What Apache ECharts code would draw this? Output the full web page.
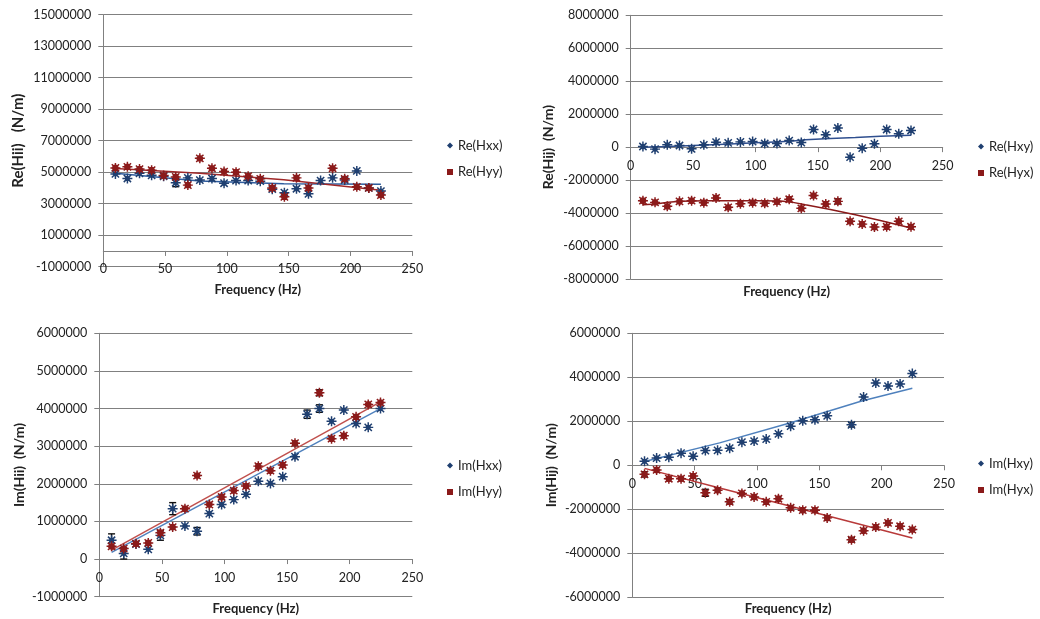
<!DOCTYPE html>
<html><head><meta charset="utf-8">
<script src="https://cdn.jsdelivr.net/npm/echarts@6/dist/echarts.min.js"></script>
<style>html,body{margin:0;padding:0;background:#fff}#c{width:1040px;height:619px}</style>
</head><body><div id="c"></div>
<script>
// ---------- data (N/m) ----------
const freq = [9.8, 19.5, 29.3, 39.1, 48.8, 58.6, 68.4, 78.1, 87.9, 97.7, 107.4, 117.2, 127.0, 136.7, 146.5, 156.3, 166.0, 175.8, 185.5, 195.3, 205.1, 214.8, 224.6];

const reHxx = [4890000, 4600000, 4930000, 4800000, 4740000, 4330000, 4640000, 4500000, 4600000, 4300000, 4470000, 4470000, 4430000, 3920000, 3700000, 3950000, 3630000, 4470000, 4640000, 4500000, 5080000, 4000000, 3800000];
const reHyy = [5270000, 5340000, 5200000, 5130000, 4790000, 4700000, 4180000, 5880000, 5250000, 5040000, 5000000, 4750000, 4580000, 4000000, 3440000, 4640000, 4000000, null, 5250000, 4580000, 4070000, 4000000, 3550000];
const reHxy = [40000, -120000, 140000, 100000, -100000, 140000, 300000, 260000, 320000, 340000, 220000, 220000, 400000, 280000, 1070000, 750000, 1160000, -610000, -60000, 200000, 1070000, 810000, 1010000];
const reHyx = [-3250000, -3350000, -3590000, -3290000, -3250000, -3370000, -3080000, -3650000, -3430000, -3370000, -3410000, -3310000, -3160000, -3710000, -2940000, -3450000, -3290000, -4500000, -4670000, -4850000, -4830000, -4500000, -4830000];
const imHxx = [500000, 150000, 400000, 260000, 630000, 1340000, 880000, 740000, 1210000, 1450000, 1580000, 1720000, 2070000, 2010000, 2190000, 2720000, 3850000, 4000000, 3660000, 3960000, 3600000, 3500000, 4000000];
const imHyy = [340000, 280000, 410000, 430000, 700000, 850000, 1340000, 2220000, 1450000, 1650000, 1820000, 1940000, 2470000, 2350000, 2500000, 3080000, null, 4420000, 3200000, 3280000, 3780000, 4110000, 4160000];
const imHxy = [180000, 330000, 370000, 550000, 410000, 670000, 680000, 780000, 1050000, 1100000, 1190000, 1430000, 1780000, 2020000, 2070000, 2250000, null, 1840000, 3100000, 3740000, 3600000, 3700000, 4170000];
const imHyx = [-410000, -210000, -610000, -610000, -490000, -1250000, -1130000, -1660000, -1280000, -1440000, -1660000, -1520000, -1930000, -2040000, -2040000, -2390000, null, -3380000, -2970000, -2810000, -2620000, -2770000, -2920000];

// error bar half-widths (null = not visible)
const errReHxx = [null, null, null, null, null, 250000, null, null, null, null, null, null, null, null, null, null, null, null, null, null, null, null, null];
const errReHyx = [null, null, null, null, null, null, null, null, null, null, null, null, null, null, null, null, 150000, null, null, null, null, null, null];
const errImHxx = [170000, 150000, null, null, 130000, 160000, null, 100000, null, null, null, null, null, null, null, null, 110000, 100000, null, null, null, null, null];
const errImHyy = [null, null, null, null, null, null, null, null, null, null, null, null, null, null, null, null, null, 80000, null, null, null, null, null];
const errImHxy = [null, null, null, null, null, null, null, null, null, null, null, null, null, null, null, null, null, 100000, null, null, null, null, null];
const errImHyx = [120000, null, null, null, null, 160000, null, 100000, null, null, null, null, null, null, null, null, null, 100000, null, null, null, null, null];

// trend lines
const trendF1 = [9.8, 78, 146, 224.6];
const trendReHxx = [4930000, 4440000, 4270000, 4240000];
const trendReHyy = [5240000, 4940000, 4520000, 3850000];
const trendF2 = [9.8, 20, 30, 40, 60, 80, 100, 120, 130, 140, 160, 180, 200, 224.6];
const trendReHxy = [0, 20000, 40000, 70000, 130000, 190000, 260000, 330000, 370000, 450000, 520000, 580000, 660000, 720000];
const trendReHyx = [-3500000, -3450000, -3350000, -3280000, -3250000, -3250000, -3250000, -3270000, -3350000, -3500000, -3780000, -4100000, -4450000, -4900000];
const trendF3 = [9.8, 224.6];
const trendImHxx = [180000, 4000000];
const trendImHyy = [240000, 4180000];
const trendF4 = [9.8, 70, 127, 184, 224.6];
const trendImHxy = [170000, 1020000, 1930000, 2920000, 3500000];
const trendImHyx = [-140000, -1030000, -1860000, -2700000, -3300000];

const xRange = {min: 0, max: 250, interval: 50};
const yRanges = [
  {min: -1000000, max: 15000000, interval: 2000000},
  {min: -8000000, max: 8000000, interval: 2000000},
  {min: -1000000, max: 6000000, interval: 1000000},
  {min: -6000000, max: 6000000, interval: 2000000}
];
const yNames = ['Re(Hii)   (N/m)', 'Re(Hij)  (N/m)', 'Im(Hii)  (N/m)', 'Im(Hij)  (N/m)'];
const xName = 'Frequency (Hz)';

// ---------- style ----------
const FONT = 'Lato';
const GRIDC = '#808080';
const TXT = '#222';
const BLUE = '#1F3F70', RED = '#8B1A1A';
const STAR = 'M0.5 8.6H19.5V11.4H0.5Z M8.6 0.5H11.4V19.5H8.6Z M4.1 2.1L17.9 15.9L15.9 17.9L2.1 4.1Z M15.9 2.1L17.9 4.1L4.1 17.9L2.1 15.9Z';
const SYM_B = 'path://' + STAR + ' M10 3.5L16.5 10L10 16.5L3.5 10Z';
const SYM_R = 'path://' + STAR + ' M10 3.6A6.4 6.4 0 1 1 9.99 3.6Z';

const grids = [
  {left: 103.3, top: 14.7, width: 309, height: 252},
  {left: 630.7, top: 15.3, width: 312, height: 263.7},
  {left: 99.3, top: 333.3, width: 313, height: 263.4},
  {left: 632.3, top: 333.3, width: 311.7, height: 264}
];
const yNameGap = [85, 82, 80, 81];
const yNameSize = [15, 14, 14, 14];
const xNameGap = [23.5, 12.7, 12.3, 11.7];
const trendColors = [['#2E5C9E', '#A02828'], ['#2F4F8F', '#8B1A1A'], ['#4F81BD', '#C0504D'], ['#4F81BD', '#B83A3A']];

const fmt = v => String(Math.round(v));

const xAxes = [], yAxes = [];
grids.forEach((g, i) => {
  const yr = yRanges[i];
  // horizontal axis crosses the vertical one at 0 (as in the original)
  const zeroOffset = -g.height * (0 - yr.min) / (yr.max - yr.min);
  xAxes.push({
    type: 'value', gridIndex: i, min: xRange.min, max: xRange.max, interval: xRange.interval,
    position: 'bottom', offset: zeroOffset,
    axisLine: {show: true, onZero: false, lineStyle: {color: GRIDC, width: 1}},
    axisTick: {show: true, inside: false, length: 5, lineStyle: {color: GRIDC}},
    axisLabel: {show: true, margin: 12, fontFamily: FONT, fontSize: 12.5, color: TXT, formatter: fmt},
    splitLine: {show: false}
  });
  xAxes.push({
    type: 'value', gridIndex: i, min: xRange.min, max: xRange.max, position: 'bottom',
    axisLine: {show: false, onZero: false}, axisTick: {show: false}, axisLabel: {show: false}, splitLine: {show: false},
    name: xName, nameLocation: 'middle', nameGap: xNameGap[i],
    nameTextStyle: {fontFamily: FONT, fontSize: 13, fontWeight: 'bold', color: TXT, verticalAlign: 'middle'}
  });
  yAxes.push({
    type: 'value', gridIndex: i, min: yr.min, max: yr.max, interval: yr.interval,
    axisLine: {show: true, onZero: false, lineStyle: {color: GRIDC, width: 1}},
    axisTick: {show: true, inside: false, length: 5, lineStyle: {color: GRIDC}},
    axisLabel: {margin: 12, fontFamily: FONT, fontSize: 12.5, color: TXT, formatter: fmt},
    splitLine: {show: true, lineStyle: {color: GRIDC, width: 1}},
    name: yNames[i], nameLocation: 'middle', nameGap: yNameGap[i], nameRotate: 90,
    nameTextStyle: {fontFamily: FONT, fontSize: yNameSize[i], fontWeight: 'bold', color: TXT, verticalAlign: 'middle', align: 'center'}
  });
});

function pts(vals) {
  const out = [];
  vals.forEach((v, i) => { if (v !== null) out.push([freq[i], v]); });
  return out;
}
function errPts(vals, errs) {
  const out = [];
  errs.forEach((e, i) => { if (e !== null && vals[i] !== null) out.push([freq[i], vals[i] - e, vals[i] + e]); });
  return out;
}
function trend(fs, vs) { return fs.map((f, i) => [f, vs[i]]); }

function renderErr(params, api) {
  const x = api.value(0), lo = api.value(1), hi = api.value(2);
  const p1 = api.coord([x, hi]), p2 = api.coord([x, lo]);
  const w = 3.5;
  const st = {stroke: '#111', lineWidth: 1.4};
  return {type: 'group', children: [
    {type: 'line', shape: {x1: p1[0], y1: p1[1], x2: p2[0], y2: p2[1]}, style: st},
    {type: 'line', shape: {x1: p1[0] - w, y1: p1[1], x2: p1[0] + w, y2: p1[1]}, style: st},
    {type: 'line', shape: {x1: p2[0] - w, y1: p2[1], x2: p2[0] + w, y2: p2[1]}, style: st}
  ]};
}

const panels = [
  {names: ['Re(Hxx)', 'Re(Hyy)'], vals: [reHxx, reHyy], errs: [errReHxx, null], tf: trendF1, tv: [trendReHxx, trendReHyy]},
  {names: ['Re(Hxy)', 'Re(Hyx)'], vals: [reHxy, reHyx], errs: [null, errReHyx], tf: trendF2, tv: [trendReHxy, trendReHyx]},
  {names: ['Im(Hxx)', 'Im(Hyy)'], vals: [imHxx, imHyy], errs: [errImHxx, errImHyy], tf: trendF3, tv: [trendImHxx, trendImHyy]},
  {names: ['Im(Hxy)', 'Im(Hyx)'], vals: [imHxy, imHyx], errs: [errImHxy, errImHyx], tf: trendF4, tv: [trendImHxy, trendImHyx]}
];

const series = [];
panels.forEach((p, i) => {
  const xi = 2 * i, yi = i;
  [0, 1].forEach(k => {
    series.push({
      type: 'line', name: 'trend' + i + k, xAxisIndex: xi, yAxisIndex: yi,
      data: trend(p.tf, p.tv[k]), showSymbol: false, symbol: 'none', silent: true, z: 2,
      lineStyle: {color: trendColors[i][k], width: 1.5}
    });
  });
  [0, 1].forEach(k => {
    if (p.errs[k]) {
      series.push({
        type: 'custom', name: 'err' + i + k, xAxisIndex: xi, yAxisIndex: yi,
        data: errPts(p.vals[k], p.errs[k]), renderItem: renderErr, z: 3, silent: true,
        encode: {x: 0, y: [1, 2]}
      });
    }
  });
  [0, 1].forEach(k => {
    series.push({
      type: 'scatter', name: p.names[k], xAxisIndex: xi, yAxisIndex: yi,
      data: pts(p.vals[k]), symbol: k === 0 ? SYM_B : SYM_R, symbolSize: 10, z: 4 + k,
      itemStyle: {color: k === 0 ? BLUE : RED, opacity: 1}
    });
  });
});

const legendPos = [{left: 442, top: 134}, {left: 973, top: 135}, {left: 442, top: 454}, {left: 973, top: 452}];
const legends = panels.map((p, i) => ({
  orient: 'vertical', left: legendPos[i].left, top: legendPos[i].top,
  itemWidth: 6, itemHeight: 6, itemGap: 13.5,
  textStyle: {fontFamily: FONT, fontSize: 13, color: TXT},
  data: [{name: p.names[0], icon: 'diamond'}, {name: p.names[1], icon: 'rect'}],
  selectedMode: false
}));

const chart = echarts.init(document.getElementById('c'), null, {renderer: 'canvas'});
chart.setOption({
  backgroundColor: '#fff',
  animation: false,
  grid: grids,
  xAxis: xAxes,
  yAxis: yAxes,
  legend: legends,
  series: series
});
</script></body></html>
